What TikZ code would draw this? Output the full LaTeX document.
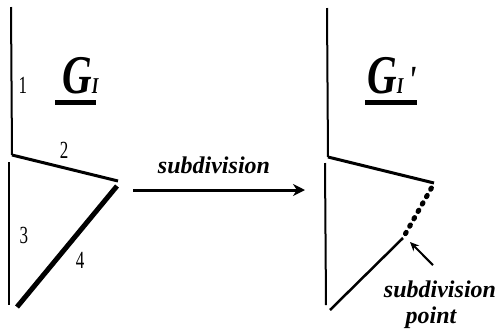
\documentclass[tikz,border=0pt]{standalone}
\usepackage{graphicx}
\usepackage{fontspec}
\setmainfont{Liberation Serif}
\usetikzlibrary{arrows.meta,calc}
\newcommand{\Gname}[1]{\scalebox{1}[1.33]{\fontsize{41}{41}\selectfont G\fontsize{17}{17}\selectfont I#1}}

\begin{document}
\begin{tikzpicture}[x=1pt, y=-1pt,
  lbl/.style={font=\fontsize{24}{26}\selectfont\bfseries\itshape, inner sep=0pt, anchor=base},
  num/.style={font=\fontsize{17}{17}\selectfont, inner sep=0pt},
  gname/.style={font=\bfseries\itshape, inner sep=0pt, anchor=base west},
  uline/.style={line width=4.5pt},
  ptr/.style={line width=2pt, -{Stealth[length=9pt,width=8pt]}}]
  \useasboundingbox (0,0) rectangle (499,333);
  % graph G_1
  \coordinate (a1) at (11,7);   \coordinate (a2) at (12,155);
  \coordinate (a3) at (118,181); \coordinate (a4) at (9,162);
  \coordinate (a5) at (9,305);  \coordinate (a6) at (17,307);
  \coordinate (a7) at (117,186);
  \draw[line width=2pt] (a1) -- (a2);
  \draw[line width=3pt] (a2) -- (a3);
  \draw[line width=2.5pt] (a4) -- (a5);
  \draw[line width=5pt] (a6) -- (a7);
  \foreach \t/\x/\y in {1/23/85, 2/64/150, 3/24/235, 4/80/260}
    \node[num] (n\t) at (\x,\y) {\scalebox{1}[1.45]{\t}};
  \node[gname] (gl) at (62,93) {\Gname{}};
  \draw[uline] ($(gl.base west)+(-7,9.5)$) -- ($(gl.base east)+(-3,9.5)$);
  % operation
  \coordinate (aL) at (133,190); \coordinate (aR) at (305,190);
  \node[lbl] (op) at (214,173) {subdivision};
  \draw[line width=3pt, -{Stealth[length=12pt,width=12pt]}] (aL) -- (aR);
  % graph G_1'
  \coordinate (b1) at (327,8);   \coordinate (b2) at (328,157);
  \coordinate (b3) at (434,183); \coordinate (b4) at (325,163);
  \coordinate (b5) at (326,305); \coordinate (b6) at (330,310);
  \coordinate (b7) at (403,238); \coordinate (b8) at (432,187);
  \draw[line width=2pt] (b1) -- (b2);
  \draw[line width=3pt] (b2) -- (b3);
  \draw[line width=2pt] (b4) -- (b5);
  \draw[line width=2.5pt] (b6) -- (b7);
  \draw[line width=5pt, line cap=round, dash pattern=on 1.5pt off 7pt, shorten <=5pt] (b7) -- (b8);
  \node[gname] (gr) at (367,93) {\Gname{\fontsize{30}{30}\selectfont\,\textquotesingle}};
  \draw[uline] ($(gr.base west)+(-2,9.5)$) -- ($(gr.base east)+(0,9.5)$);
  \node[lbl] (sp1) at (440,297) {subdivision};
  \node[lbl] (sp2) at (431,323) {point};
  \draw[ptr] ($(sp1.north)+(-7,-15)$) -- ($(b7)+(7,4)$);
\end{tikzpicture}
\end{document}
